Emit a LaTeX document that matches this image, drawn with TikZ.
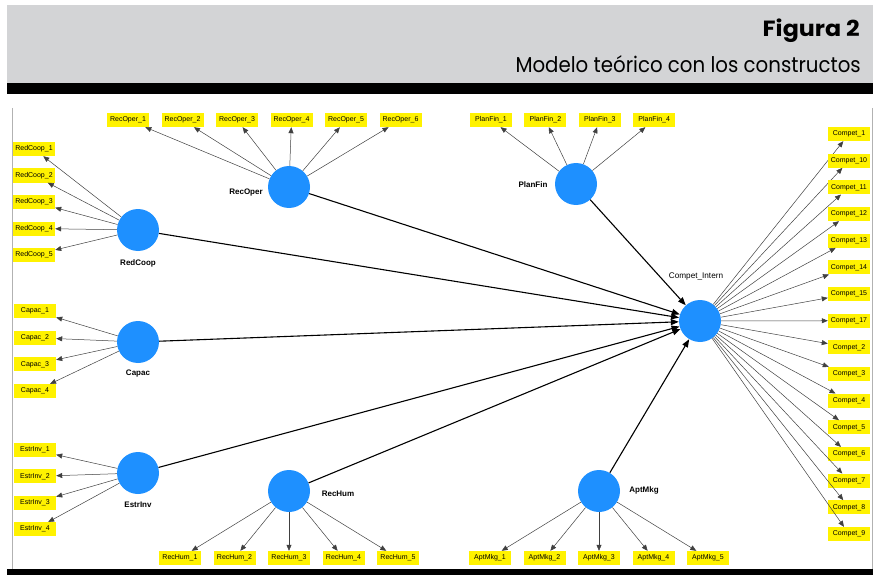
\documentclass[tikz,border=0pt]{standalone}
\usepackage{fontspec}
\setmainfont{Liberation Sans}
\newfontfamily\headfont{Poppins}
\usetikzlibrary{arrows.meta,positioning}
\definecolor{lvblue}{RGB}{30,144,255}
\definecolor{hdgray}{RGB}{211,212,214}
\definecolor{frgray}{RGB}{178,178,178}

\begin{document}
\begin{tikzpicture}[
      x=1pt, y=-1pt, line join=round,
      latent/.style={circle, fill=lvblue, minimum size=42pt, inner sep=0pt},
      indic/.style={rectangle, fill=yellow, minimum width=42pt,
        minimum height=14pt, inner sep=1pt, font=\fontsize{7}{8}\selectfont},
      lvlabel/.style={font=\fontsize{8}{9}\selectfont\bfseries},
      load/.style={-{Triangle[length=6pt,width=5pt]}, draw=black!75,
        line width=0.5pt},
      struct/.style={-{Triangle[length=8pt,width=6pt]}, line width=1.1pt}
    ]
    \useasboundingbox (0,0) rectangle (873,575);

    % ------------------ Header ------------------
    \fill[hdgray] (7,5) rectangle (873,83);
    \fill[black] (7,83) rectangle (873,94);
    \node[anchor=base east, inner sep=0pt,
      font=\headfont\bfseries\fontsize{22}{24}\selectfont] (fig)
    at (860,37) {\scalebox{1.08}[1]{Figura 2}};
    \node[anchor=base east, inner sep=0pt,
      font=\headfont\fontsize{21.5}{23}\selectfont] (title)
    at (861,73) {\scalebox{0.92}[1]{Modelo teórico con los constructos}};

    % ------------------ Frame ------------------
    \draw[frgray, line width=1pt] (12,108) -- (12,569);
    \draw[frgray, line width=1pt] (872,108) -- (872,569);
    \fill[black] (7,569) rectangle (873,575);

    % ------------------ Latent variables ------------------
    \node[latent] (RedCoop) at (138,230) {};
    \node[lvlabel] (RedCoopLab) at (138,263) {RedCoop};
    \node[latent] (Capac) at (138,342) {};
    \node[lvlabel] (CapacLab) at (138,374) {Capac};
    \node[latent] (EstrInv) at (138,473) {};
    \node[lvlabel] (EstrInvLab) at (138,505) {EstrInv};
    \node[latent] (RecOper) at (289,187) {};
    \node[lvlabel] (RecOperLab) at (246,193) {RecOper};
    \node[latent] (PlanFin) at (576,184) {};
    \node[lvlabel] (PlanFinLab) at (533,185) {PlanFin};
    \node[latent] (RecHum) at (289,491) {};
    \node[lvlabel] (RecHumLab) at (338,494) {RecHum};
    \node[latent] (AptMkg) at (599,491) {};
    \node[lvlabel] (AptMkgLab) at (644,490) {AptMkg};
    \node[latent] (CompetIntern) at (700,321) {};
    \node[font=\fontsize{8.2}{9}\selectfont] (CompetInternLab)
    at (696,276) {Compet\_Intern};

    % ------------------ Indicators, left ------------------
    \foreach \i [count=\k from 0] in {1,...,5} {
      \node[indic] (RedCoop-\i) at (34,149+26.5*\k) {RedCoop\_\i};
      \draw[load] (RedCoop) -- (RedCoop-\i);
    }
    \foreach \i [count=\k from 0] in {1,...,4} {
      \node[indic] (Capac-\i) at (35,311+26.7*\k) {Capac\_\i};
      \draw[load] (Capac) -- (Capac-\i);
      \node[indic] (EstrInv-\i) at (35,450+26.4*\k) {EstrInv\_\i};
      \draw[load] (EstrInv) -- (EstrInv-\i);
    }

    % ------------------ Indicators, top ------------------
    \foreach \i [count=\k from 0] in {1,...,6} {
      \node[indic] (RecOper-\i) at (128+54.5*\k,120) {RecOper\_\i};
      \draw[load] (RecOper) -- (RecOper-\i);
    }
    \foreach \i [count=\k from 0] in {1,...,4} {
      \node[indic] (PlanFin-\i) at (491+54.4*\k,120) {PlanFin\_\i};
      \draw[load] (PlanFin) -- (PlanFin-\i);
    }

    % ------------------ Indicators, bottom ------------------
    \foreach \i [count=\k from 0] in {1,...,5} {
      \node[indic] (RecHum-\i) at (180+54.5*\k,558) {RecHum\_\i};
      \draw[load] (RecHum) -- (RecHum-\i);
      \node[indic] (AptMkg-\i) at (490+54.5*\k,558) {AptMkg\_\i};
      \draw[load] (AptMkg) -- (AptMkg-\i);
    }

    % ------------------ Indicators, right ------------------
    \foreach \n [count=\k from 0] in
    {1,10,11,12,13,14,15,17,2,3,4,5,6,7,8,9} {
      \node[indic] (Compet-\n) at (849,134+26.67*\k) {Compet\_\n};
      \draw[load] (CompetIntern) -- (Compet-\n);
    }

    % ------------------ Structural paths ------------------
    \foreach \lv in {RedCoop,Capac,EstrInv,RecOper,PlanFin,RecHum,AptMkg}
    \draw[struct] (\lv) -- (CompetIntern);

  \end{tikzpicture}
\end{document}
